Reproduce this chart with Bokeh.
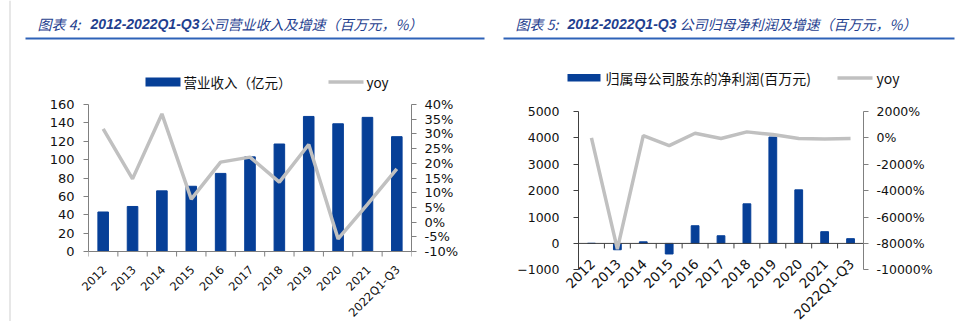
import math
from bokeh.plotting import figure
from bokeh.models import Range1d, LinearAxis, FixedTicker, Label, BoxAnnotation
from bokeh.core.properties import value
from bokeh.embed import file_html
from bokeh.resources import INLINE

# ---------------- data ----------------
categories = ["2012", "2013", "2014", "2015", "2016", "2017", "2018", "2019", "2020", "2021", "2022Q1-Q3"]
revenue = [43, 49, 66, 71, 85, 103, 117, 147, 139, 146, 125]                       # 亿元
revenue_yoy = [31.7, 14.7, 36.8, 7.8, 20.4, 22.1, 13.6, 26.4, -5.7, 6.0, 18.1]      # %
net_profit = [3, -240, 60, -400, 670, 290, 1500, 4030, 2030, 445, 180]              # 百万元
profit_yoy = [0, -8440, 175, -590, 350, -50, 456, 250, -50, -78, -40]               # %

left_ticks = [0, 20, 40, 60, 80, 100, 120, 140, 160]
left_pct_ticks = [-10, -5, 0, 5, 10, 15, 20, 25, 30, 35, 40]
right_ticks = [-1000, 0, 1000, 2000, 3000, 4000, 5000]
right_pct_ticks = [-10000, -8000, -6000, -4000, -2000, 0, 2000]

title_left = ("图表 4:", "2012-2022Q1-Q3", "公司营业收入及增速（百万元，%）")
title_right = ("图表 5:", "2012-2022Q1-Q3", "公司归母净利润及增速（百万元，%）")
legend_left = ("营业收入（亿元）", "yoy")
legend_right = ("归属母公司股东的净利润(百万元)", "yoy")

BLUE = "#063f97"
GREY = "#c0c0c0"
TITLE_C = "#1f3f8f"
RULE_C = "#2e62b8"
FONT = "DejaVu Sans"
CJK = "Noto Sans CJK SC"
W, H = 962, 321

n = len(categories)
centers = [i + 0.5 for i in range(n)]
bounds = list(range(n + 1))


def clean(p):
    p.grid.visible = False
    p.outline_line_color = None
    p.background_fill_alpha = 0
    p.border_fill_alpha = 0


def style_y(ax, ticks, color, size, standoff, pct=False):
    ax.ticker = FixedTicker(ticks=ticks)
    if pct:
        ax.major_label_overrides = {t: f"{t}%" for t in ticks}
    ax.bounds = (ticks[0], ticks[-1])
    ax.axis_line_color = color
    ax.major_tick_line_color = color
    ax.major_tick_out = 5
    ax.major_tick_in = 0
    ax.minor_tick_line_color = None
    ax.major_label_text_font = FONT
    ax.major_label_text_font_size = size
    ax.major_label_text_color = "#111111"
    ax.major_label_standoff = standoff


# ---------------- background layer (whole canvas): titles, rules, legends, category labels ----
bg = figure(width=W, height=H, x_range=Range1d(0, W), y_range=Range1d(H, 0),
            x_axis_location=None, y_axis_location=None, min_border=0,
            output_backend="svg", toolbar_location=None)
clean(bg)
bg.styles = {"position": "absolute", "left": "0px", "top": "0px"}


def add_title(x_parts, parts, rule_x0, rule_x1):
    fonts = [(CJK, "italic"), ("Liberation Sans", "bold italic"), (CJK, "italic")]
    for x, t, (f, s) in zip(x_parts, parts, fonts):
        bg.add_layout(Label(x=x, y=23, text=t, text_font=f, text_font_size="14px",
                            text_font_style=s, text_color=TITLE_C, text_baseline="middle"))
    bg.add_layout(BoxAnnotation(left=rule_x0, right=rule_x1, top=37, bottom=39,
                                fill_color=RULE_C, fill_alpha=1, line_color=None))


add_title((37, 90, 199), title_left, 25, 484)
add_title((515, 567, 679), title_right, 503, 954)
bg.add_layout(BoxAnnotation(left=9, right=10, top=0, bottom=H, fill_color="#d0d0d0",
                            fill_alpha=1, line_color=None))


def add_legend(labels, bar_x, bar_w, bar_top, bar_h, lab_x, line_x, line_w, yoy_x, yc, fsize):
    bg.add_layout(BoxAnnotation(left=bar_x, right=bar_x + bar_w, top=bar_top, bottom=bar_top + bar_h,
                                fill_color=BLUE, fill_alpha=1, line_color=None))
    bg.add_layout(BoxAnnotation(left=line_x, right=line_x + line_w, top=yc - 1.75, bottom=yc + 1.75,
                                fill_color=GREY, fill_alpha=1, line_color=None))
    for x, t in ((lab_x, labels[0]), (yoy_x, labels[1])):
        bg.add_layout(Label(x=x, y=yc, text=t, text_font=CJK, text_font_size=fsize,
                            text_color="#111111", text_baseline="middle"))


add_legend(legend_left, 145, 35, 77, 9, 183, 328, 35, 366, 81.5, "13.5px")
add_legend(legend_right, 567, 33, 73.5, 7.5, 605, 837, 35, 876, 77.5, "14px")


# ---------------- charts ----------------
def make_chart(fig_left, axis_x, right_x, top_y, axis_bottom_y, ticks, pct_ticks,
               axis_color, right_color, size, standoff_l, standoff_r):
    """Frame runs between the two y axes and from the top tick down to the canvas bottom;
    the axes themselves stop at their first / last tick."""
    ppu = (axis_bottom_y - top_y) / (ticks[-1] - ticks[0])
    y_lo = ticks[0] - (H - axis_bottom_y) / ppu
    pspan = pct_ticks[-1] - pct_ticks[0]
    py_lo = pct_ticks[0] - (H - axis_bottom_y) / (axis_bottom_y - top_y) * pspan
    p = figure(width=481, height=H, x_range=Range1d(0, n), y_range=Range1d(y_lo, ticks[-1]),
               x_axis_location=None, output_backend="svg", toolbar_location=None,
               min_border_left=axis_x - fig_left, min_border_right=fig_left + 481 - right_x,
               min_border_top=top_y, min_border_bottom=0)
    clean(p)
    p.styles = {"position": "absolute", "left": f"{fig_left}px", "top": "0px"}
    p.extra_y_ranges = {"yoy": Range1d(py_lo, pct_ticks[-1])}
    style_y(p.yaxis[0], ticks, axis_color, size, standoff_l)
    ar = LinearAxis(y_range_name="yoy")
    style_y(ar, pct_ticks, right_color, size, standoff_r, pct=True)
    p.add_layout(ar, "right")
    # matching ranges on the background layer so the category labels are not clipped
    cw = (right_x - axis_x) / n
    key = f"c{fig_left}"
    bg.extra_x_ranges[key] = Range1d(-axis_x / cw, (W - axis_x) / cw)
    bg.extra_y_ranges[key] = Range1d(ticks[0] - (H - axis_bottom_y) / ppu,
                                     ticks[0] + axis_bottom_y / ppu)
    return p, 5 / ppu, key


# ---------------- left chart ----------------
p1, tick1, k1 = make_chart(0, 88, 411, 104, 251, left_ticks, left_pct_ticks,
                           "#808080", "#808080", "13px", 9, 8)
p1.vbar(x=centers, top=revenue, width=0.36, fill_color=BLUE, line_color=BLUE)
p1.segment(x0=[0], x1=[n], y0=[0], y1=[0], line_color="#808080", line_width=1)
p1.segment(x0=bounds, x1=bounds, y0=[0] * len(bounds), y1=[-tick1] * len(bounds),
           line_color="#808080", line_width=1)
p1.line(x=centers, y=revenue_yoy, y_range_name="yoy", line_color=GREY, line_width=3.5)
bg.text(x=centers, y=[0] * n, text=categories, angle=math.pi / 4,
        x_range_name=k1, y_range_name=k1,
        text_align="right", text_baseline="middle", x_offset=1, y_offset=16,
        text_font=value(FONT), text_font_size="11.5px", text_color="#111111")

# ---------------- right chart ----------------
p2, tick2, k2 = make_chart(480, 578, 863, 111, 269.3, right_ticks, right_pct_ticks,
                           "#404040", "#808080", "12.5px", 14, 8)
p2.vbar(x=centers, top=net_profit, width=0.3, fill_color=BLUE, line_color=BLUE)
p2.segment(x0=[0], x1=[n], y0=[0], y1=[0], line_color="#404040", line_width=1)
p2.segment(x0=bounds, x1=bounds, y0=[0] * len(bounds), y1=[-tick2] * len(bounds),
           line_color="#404040", line_width=1)
p2.line(x=centers, y=profit_yoy, y_range_name="yoy", line_color=GREY, line_width=3.5)
bg.text(x=centers, y=[0] * n, text=categories, angle=math.pi / 4,
        x_range_name=k2, y_range_name=k2,
        text_align="right", text_baseline="middle", x_offset=1, y_offset=18,
        text_font=value(FONT), text_font_size="13.5px", text_color="#111111")

open("out.html", "w").write(file_html([bg, p1, p2], INLINE))
